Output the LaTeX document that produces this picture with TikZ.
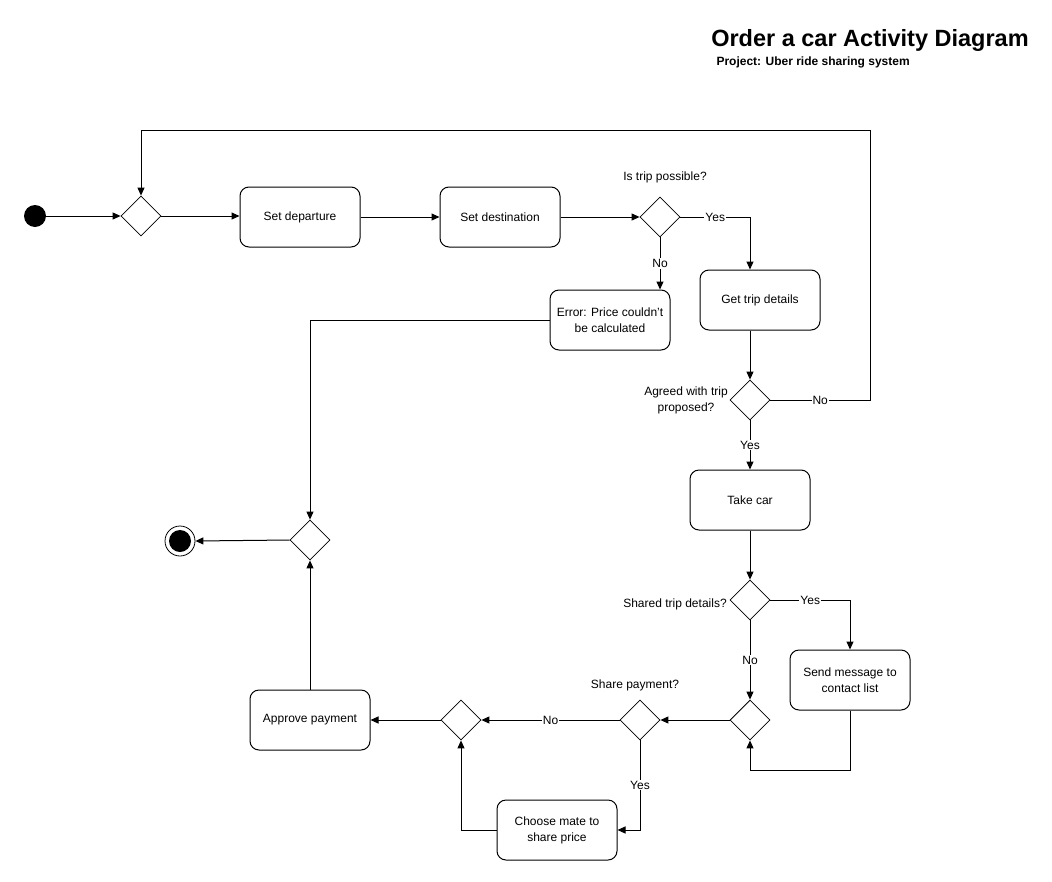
\documentclass[tikz,border=0pt]{standalone}
\usepackage{fontspec}
\setmainfont{Liberation Sans}
\usetikzlibrary{shapes.geometric,arrows.meta}

\tikzset{
	act/.style={draw, rounded corners=9pt, minimum width=120pt, minimum height=60pt, align=center, line width=1pt},
	dec/.style={draw, diamond, minimum width=40pt, minimum height=40pt, inner sep=0pt, line width=0.8pt},
	lbl/.style={fill=white, inner sep=1pt},
	flow/.style={-{Triangle[length=8pt,width=7pt]}, line width=1pt},
}

\begin{document}
\begin{tikzpicture}[x=1pt, y=-1pt, font=\fontsize{12}{16}\selectfont]
	\useasboundingbox (0,0) rectangle (1052,881);
	
	\node (title) at (870,40) {\fontsize{23.5}{27}\selectfont\bfseries Order a car Activity Diagram};
	\node (sub) at (713,62) [anchor=west]{\fontsize{12}{14}\selectfont\bfseries Project: Uber ride sharing system};
	
	\node (start) at (35,216) [circle, fill, minimum size=22pt, inner sep=0pt]{};
	\node (d1) at (141,216) [dec]{};
	\node (dep) at (300,217) [act]{Set departure};
	\node (dest) at (500,217) [act]{Set destination};
	\node (d2) at (660,217) [dec]{};
	\node (q2) at (665,177) {Is trip possible?};
	\node (trip) at (760,300) [act]{Get trip details};
	\node (err) at (610,320) [act]{Error: Price couldn't\\be calculated};
	\node (d3) at (750,400) [dec]{};
	\node (q3) at (686,400) [align=center]{Agreed with trip\\proposed?};
	\node (car) at (750,500) [act]{Take car};
	\node (d4) at (750,600) [dec]{};
	\node (q4) at (675,604) {Shared trip details?};
	\node (msg) at (850,680) [act]{Send message to\\contact list};
	\node (d5) at (750,720) [dec]{};
	\node (d6) at (640,720) [dec]{};
	\node (q6) at (635,685) {Share payment?};
	\node (mate) at (557,830) [act]{Choose mate to\\share price};
	\node (d7) at (461,720) [dec]{};
	\node (pay) at (310,720) [act]{Approve payment};
	\node (d8) at (310,540) [dec]{};
	\node (stop) at (180,541) [circle, draw, line width=0.8pt, minimum size=30pt, inner sep=0pt]{};
	\node (stopin) at (stop) [circle, fill, minimum size=22pt, inner sep=0pt]{};
	\coordinate (loop) at (870,130);
	
	\draw[flow] (start) -- (d1);
	\draw[flow] (d1.east) -- (d1.east -| dep.west);
	\draw[flow] (dep) -- (dest);
	\draw[flow] (dest.east) -- (d2.west);
	\draw[flow] (d2.east) -| node[lbl, pos=0.25]{Yes} (trip.north -| d3);
	\draw[flow] (d2.south) -- node[lbl]{No} (d2.south |- err.north);
	\draw[flow] (trip.south -| d3) -- (d3.north);
	\draw[flow] (d3.east) -| node[lbl, pos=0.25]{No} (loop) -| (d1.north);
	\draw[flow] (d3.south) -- node[lbl]{Yes} (car.north);
	\draw[flow] (car.south) -- (d4.north);
	\draw[flow] (d4.east) -| node[lbl, pos=0.25]{Yes} (msg.north);
	\draw[flow] (d4.south) -- node[lbl]{No} (d5.north);
	\draw[flow] (msg.south) -- ++(0,60) -| (d5.south);
	\draw[flow] (d5.west) -- (d6.east);
	\draw[flow] (d6.west) -- node[lbl]{No} (d7.east);
	\draw[flow] (d6.south) |- node[lbl, pos=0.25]{Yes} (mate.east);
	\draw[flow] (mate.west) -| (d7.south);
	\draw[flow] (d7.west) -- (pay.east);
	\draw[flow] (pay.north) -- (d8.south);
	\draw[flow] (err.west) -| (d8.north);
	\draw[flow] (d8.west) -- (stop.east);
\end{tikzpicture}
\end{document}
